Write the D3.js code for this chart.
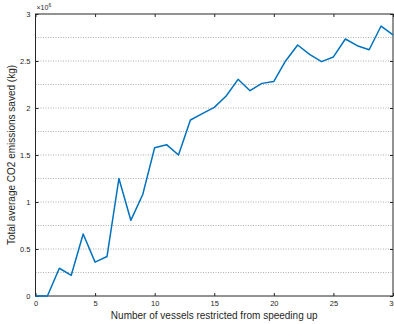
<!DOCTYPE html>
<html>
<head>
<meta charset="utf-8">
<script src="https://cdn.jsdelivr.net/npm/d3@7"></script>
<style>
  html, body { margin: 0; padding: 0; background: #fff; }
  svg { display: block; font-family: "Liberation Sans", Arial, sans-serif; }
</style>
</head>
<body>
<svg id="chart" width="394" height="324"></svg>
<script>
// Vessels restricted from speeding up (x) vs. average CO2 saved, in units of 1e6 kg
const vessels = d3.range(0, 31);
const co2Saved = [0, 0, 0.295, 0.22, 0.66, 0.36, 0.42, 1.25, 0.805, 1.08,
  1.578, 1.61, 1.50, 1.872, 1.94, 2.007, 2.128, 2.305, 2.184, 2.262,
  2.283, 2.503, 2.67, 2.571, 2.493, 2.543, 2.734, 2.663, 2.62, 2.872, 2.777];
const xTicks = [0, 5, 10, 15, 20, 25, 30];
const yTicks = [0, 0.5, 1, 1.5, 2, 2.5, 3];
const yGrid = [0.25, 0.5, 0.75, 1, 1.25, 1.5, 1.75, 2, 2.25, 2.5, 2.75];

const svg = d3.select("#chart");
const m = { left: 35.5, right: 393, top: 14, bottom: 296 };

const x = d3.scaleLinear().domain([0, 30]).range([m.left, m.right]);
const y = d3.scaleLinear().domain([0, 3]).range([m.bottom, m.top]);

const axisColor = "#262626";

// horizontal dotted grid
svg.append("g").selectAll("line").data(yGrid).join("line")
  .attr("x1", m.left).attr("x2", m.right)
  .attr("y1", d => y(d)).attr("y2", d => y(d))
  .attr("stroke", "#9a9a9a").attr("stroke-width", 0.8)
  .attr("stroke-dasharray", "1,1.5");

function styleAxis(g) {
  g.select(".domain").remove();
  g.selectAll(".tick line").attr("stroke", axisColor);
  g.selectAll(".tick text").attr("fill", axisColor).attr("font-size", 7.5);
}

// bottom / top axes
svg.append("g").attr("transform", `translate(0,${m.bottom})`)
  .call(d3.axisBottom(x).tickValues(xTicks).tickSize(-3).tickPadding(5))
  .call(styleAxis);
svg.append("g").attr("transform", `translate(0,${m.top})`)
  .call(d3.axisTop(x).tickValues(xTicks).tickSize(-3).tickFormat(""))
  .call(styleAxis);

// left / right axes
svg.append("g").attr("transform", `translate(${m.left},0)`)
  .call(d3.axisLeft(y).tickValues(yTicks).tickSize(-3).tickPadding(5).tickFormat(d3.format("~g")))
  .call(styleAxis);
svg.append("g").attr("transform", `translate(${m.right},0)`)
  .call(d3.axisRight(y).tickValues(yTicks).tickSize(-3).tickFormat(""))
  .call(styleAxis);

// box
svg.append("rect")
  .attr("x", m.left).attr("y", m.top)
  .attr("width", m.right - m.left).attr("height", m.bottom - m.top)
  .attr("fill", "none").attr("stroke", axisColor).attr("stroke-width", 1);

// data line
const line = d3.line().x((d, i) => x(vessels[i])).y(d => y(d));
svg.append("path").datum(co2Saved)
  .attr("d", line)
  .attr("fill", "none").attr("stroke", "#0072BD").attr("stroke-width", 1.5)
  .attr("stroke-linejoin", "round");

// exponent label
const ex = svg.append("text").attr("x", m.left + 1).attr("y", m.top - 4)
  .attr("font-size", 7).attr("fill", axisColor);
ex.append("tspan").text("\u00d710");
ex.append("tspan").attr("dy", -3).attr("font-size", 5).text("6");

// axis titles
svg.append("text")
  .attr("x", (m.left + m.right) / 2).attr("y", 319)
  .attr("text-anchor", "middle").attr("font-size", 10).attr("fill", axisColor)
  .text("Number of vessels restricted from speeding up");
svg.append("text")
  .attr("transform", `translate(15,${(m.top + m.bottom) / 2}) rotate(-90)`)
  .attr("text-anchor", "middle").attr("font-size", 10).attr("fill", axisColor)
  .text("Total average CO2 emissions saved (kg)");
</script>
</body>
</html>
